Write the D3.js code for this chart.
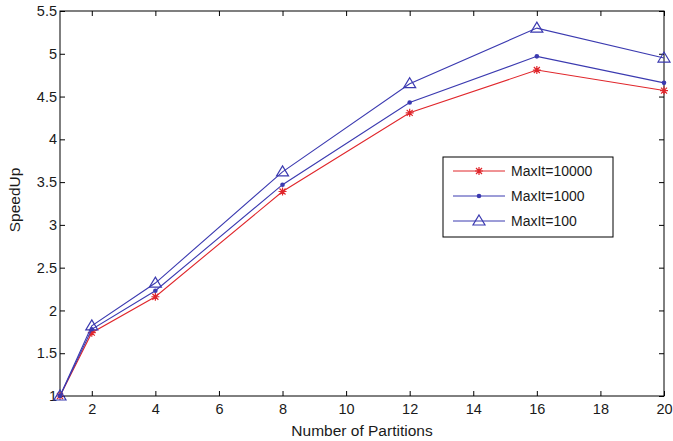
<!DOCTYPE html>
<html>
<head>
<meta charset="utf-8">
<script src="https://cdn.jsdelivr.net/npm/d3@7"></script>
<style>
  body { margin: 0; background: #fff; }
  text { font-family: "Liberation Sans", Arial, sans-serif; }
</style>
</head>
<body>
<svg id="chart" width="673" height="441"></svg>
<script>
// data
const partitions = [1, 2, 4, 8, 12, 16, 20];
const speedup10000 = [1.0, 1.74, 2.16, 3.39, 4.31, 4.81, 4.57];
const speedup1000 = [1.0, 1.78, 2.23, 3.47, 4.43, 4.97, 4.66];
const speedup100 = [1.0, 1.82, 2.32, 3.62, 4.65, 5.30, 4.95];
const xTicks = [2, 4, 6, 8, 10, 12, 14, 16, 18, 20];
const yTicks = [1, 1.5, 2, 2.5, 3, 3.5, 4, 4.5, 5, 5.5];

const series = [
    {name: "MaxIt=10000", values: speedup10000, color: "#e0262b", marker: "star"},
    {name: "MaxIt=1000", values: speedup1000, color: "#3b3ab0", marker: "dot"},
    {name: "MaxIt=100", values: speedup100, color: "#3b3ab0", marker: "triangle"}
];

const svg = d3.select("#chart");
const margin = {left: 60, right: 9, top: 11, bottom: 45};
const width = 673 - margin.left - margin.right;
const height = 441 - margin.top - margin.bottom;

const x = d3.scaleLinear().domain([1, 20]).range([0, width]);
const y = d3.scaleLinear().domain([1, 5.5]).range([height, 0]);

const g = svg.append("g").attr("transform", `translate(${margin.left},${margin.top})`);

// axes with inward ticks, labels only bottom/left
const axisStyle = sel => {
    sel.select(".domain").remove();
    sel.selectAll("line").attr("stroke", "#000");
    sel.selectAll("text").attr("font-size", 14.5).attr("fill", "#1a1a1a");
};
g.append("g").attr("transform", `translate(0,${height})`)
    .call(d3.axisBottom(x).tickValues(xTicks).tickSize(-5).tickPadding(8))
    .call(axisStyle);
g.append("g")
    .call(d3.axisLeft(y).tickValues(yTicks).tickSize(-5).tickPadding(3).tickFormat(d3.format("")))
    .call(axisStyle);
g.append("g")
    .call(d3.axisTop(x).tickValues(xTicks).tickSize(-5).tickFormat(""))
    .call(axisStyle);
g.append("g").attr("transform", `translate(${width},0)`)
    .call(d3.axisRight(y).tickValues(yTicks).tickSize(-5).tickFormat(""))
    .call(axisStyle);

g.append("rect")
    .attr("width", width).attr("height", height)
    .attr("fill", "none").attr("stroke", "#000").attr("stroke-width", 1);

const line = d3.line().x((d, i) => x(partitions[i])).y(d => y(d));

function drawMarker(sel, type, color) {
    if (type === "star") {
        sel.append("path")
            .attr("d", "M-4,0H4M0,-4V4M-3,-3L3,3M-3,3L3,-3")
            .attr("stroke", color).attr("stroke-width", 1.2).attr("fill", "none");
    } else if (type === "dot") {
        sel.append("circle").attr("r", 2.3).attr("fill", color);
    } else {
        sel.append("path")
            .attr("d", "M0,-6L6,4H-6Z")
            .attr("stroke", color).attr("stroke-width", 1.2).attr("fill", "none");
    }
}

series.forEach(s => {
    g.append("path")
        .datum(s.values)
        .attr("d", line)
        .attr("fill", "none")
        .attr("stroke", s.color)
        .attr("stroke-width", 1.1);
    s.values.forEach((v, i) => {
        const m = g.append("g").attr("transform", `translate(${x(partitions[i])},${y(v)})`);
        drawMarker(m, s.marker, s.color);
    });
});

// legend
const legend = svg.append("g").attr("transform", "translate(443,157)");
legend.append("rect")
    .attr("width", 170).attr("height", 80)
    .attr("fill", "#fff").attr("stroke", "#000");
series.forEach((s, i) => {
    const ly = 14 + i * 25;
    legend.append("line")
        .attr("x1", 10).attr("x2", 62).attr("y1", ly).attr("y2", ly)
        .attr("stroke", s.color);
    drawMarker(legend.append("g").attr("transform", `translate(36,${ly})`), s.marker, s.color);
    legend.append("text")
        .attr("x", 68).attr("y", ly + 5)
        .attr("font-size", 14).attr("fill", "#1a1a1a")
        .text(s.name);
});

// axis titles
svg.append("text")
    .attr("x", margin.left + width / 2).attr("y", 436)
    .attr("text-anchor", "middle").attr("font-size", 15.5).attr("fill", "#1a1a1a")
    .text("Number of Partitions");
svg.append("text")
    .attr("transform", "translate(20,200) rotate(-90)")
    .attr("text-anchor", "middle").attr("font-size", 15.5).attr("fill", "#1a1a1a")
    .text("SpeedUp");
</script>
</body>
</html>
